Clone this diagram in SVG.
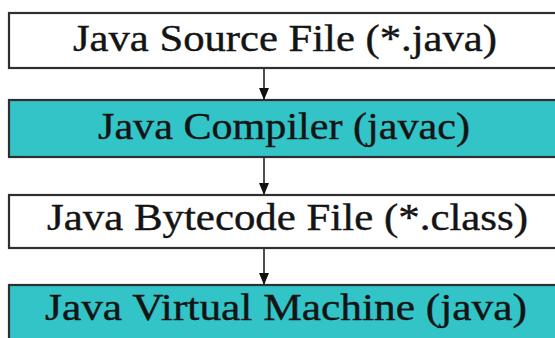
<svg xmlns="http://www.w3.org/2000/svg" width="555" height="338" viewBox="0 0 555 338">
<defs>
<style>
.box{stroke:#2f2f2f;stroke-width:2.2}
.white{fill:#ffffff}
.teal{fill:#33c4c8}
.lbl{font-family:"Liberation Serif","Times New Roman",serif;font-size:37.5px;fill:#141414;stroke:#141414;stroke-width:0.4}
.conn{stroke:#222;stroke-width:1.6;fill:none}
</style>
<marker id="ah" markerWidth="12" markerHeight="10" refX="12" refY="5" orient="auto" markerUnits="userSpaceOnUse">
<path d="M0,0 L12,5 L0,10 Z" fill="#111"/>
</marker>
</defs>
<rect width="555" height="338" fill="#ffffff"/>
<g id="connectors">
<line class="conn" x1="264" y1="68" x2="264" y2="100" marker-end="url(#ah)"/>
<line class="conn" x1="264" y1="157" x2="264" y2="195" marker-end="url(#ah)"/>
<line class="conn" x1="264" y1="248" x2="264" y2="285" marker-end="url(#ah)"/>
</g>
<g id="source">
<rect class="box white" x="9" y="13" width="560" height="55"/>
<text class="lbl" x="73" y="51" textLength="424" lengthAdjust="spacingAndGlyphs">Java Source File (*.java)</text>
</g>
<g id="compiler">
<rect class="box teal" x="9" y="100" width="560" height="57"/>
<text class="lbl" x="98" y="139" textLength="372" lengthAdjust="spacingAndGlyphs">Java Compiler (javac)</text>
</g>
<g id="bytecode">
<rect class="box white" x="9" y="195" width="560" height="53"/>
<text class="lbl" x="47" y="230" textLength="481" lengthAdjust="spacingAndGlyphs">Java Bytecode File (*.class)</text>
</g>
<g id="jvm">
<rect class="box teal" x="9" y="285" width="560" height="70"/>
<text class="lbl" x="45" y="320" textLength="482" lengthAdjust="spacingAndGlyphs">Java Virtual Machine (java)</text>
</g>
</svg>
